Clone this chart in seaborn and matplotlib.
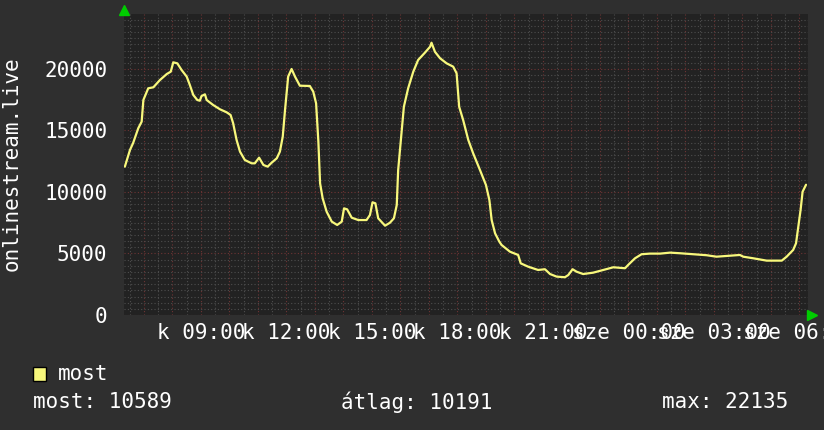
import numpy as np
import pandas as pd
import matplotlib.pyplot as plt
from matplotlib.patches import Rectangle
import seaborn as sns

# idő (órában, másnap > 24) és nézőszám
hours = [6.33, 6.51, 6.62, 6.80, 6.92, 6.98, 7.15, 7.33, 7.56, 7.80,
         7.94, 8.03, 8.17, 8.32, 8.50, 8.61, 8.73, 8.87, 8.96, 9.02,
         9.14, 9.20, 9.43, 9.67, 9.90, 10.04, 10.13, 10.25, 10.37, 10.54,
         10.78, 10.89, 11.04, 11.19, 11.34, 11.48, 11.66, 11.77, 11.87, 11.95,
         12.06, 12.18, 12.30, 12.47, 12.82, 12.94, 13.04, 13.12, 13.18, 13.27,
         13.41, 13.59, 13.78, 13.94, 14.02, 14.13, 14.29, 14.52, 14.81, 14.93,
         15.02, 15.12, 15.22, 15.46, 15.63, 15.77, 15.87, 15.92, 16.04, 16.12,
         16.27, 16.45, 16.62, 16.86, 17.04, 17.09, 17.21, 17.39, 17.62, 17.85,
         17.97, 18.06, 18.20, 18.38, 18.55, 18.79, 19.00, 19.12, 19.20, 19.32,
         19.47, 19.55, 19.84, 20.13, 20.22, 20.48, 20.83, 21.07, 21.25, 21.48,
         21.77, 21.89, 22.04, 22.18, 22.41, 22.76, 23.12, 23.47, 23.88, 23.99,
         24.23, 24.46, 24.75, 25.11, 25.46, 25.81, 26.27, 26.74, 27.09, 27.56,
         27.91, 28.03, 28.38, 28.85, 29.38, 29.55, 29.78, 29.88, 29.96, 30.04,
         30.11, 30.23]
viewers = [12060, 13420, 13980, 15180, 15720, 17480, 18430, 18510, 19100, 19590,
           19780, 20540, 20460, 19920, 19380, 18700, 17890, 17480, 17420, 17800,
           17940, 17480, 17070, 16720, 16480, 16260, 15590, 14230, 13280, 12600,
           12330, 12330, 12790, 12200, 12060, 12380, 12740, 13280, 14500, 16670,
           19380, 20000, 19380, 18640, 18620, 18160, 17210, 14090, 10710, 9490,
           8400, 7590, 7320, 7590, 8670, 8590, 7910, 7720, 7720, 8130,
           9160, 9080, 7860, 7260, 7500, 7860, 8940, 11790, 14900, 16930,
           18430, 19780, 20730, 21330, 21810, 22135, 21400, 20870, 20460, 20190,
           19650, 16930, 15850, 14230, 13150, 11790, 10570, 9350, 7720, 6640,
           5960, 5690, 5150, 4880, 4200, 3930, 3660, 3720, 3330, 3120,
           3070, 3250, 3720, 3520, 3330, 3440, 3660, 3880, 3800, 4070,
           4610, 4940, 4990, 4990, 5070, 5020, 4940, 4860, 4740, 4820,
           4880, 4740, 4610, 4420, 4420, 4740, 5290, 5830, 7180, 8540,
           10020, 10589]

xtick_hours = [9, 12, 15, 18, 21, 24, 27, 30]
xtick_labels = ['k 09:00', 'k 12:00', 'k 15:00', 'k 18:00', 'k 21:00',
                'sze 00:00', 'sze 03:00', 'sze 06:00']
ytick_values = [0, 5000, 10000, 15000, 20000]
y_title = 'onlinestream.live'
legend_label = 'most'
stats = ['most: 10589', 'átlag: 10191', 'max: 22135']

bg = '#2f2f2f'
plot_bg = '#222222'
line_col = '#f8f87c'
W, H = 824, 430

sns.set_style('dark')
plt.rcParams['font.family'] = ['DejaVu Sans Mono', 'DejaVu Sans']

fig = plt.figure(figsize=(W / 100, H / 100), dpi=100, facecolor=bg)
ax = fig.add_axes([124 / W, 1 - 315 / H, 684 / W, 301 / H])
ax.set_facecolor(plot_bg)

df = pd.DataFrame({'ora': hours, 'nezok': viewers})
sns.lineplot(data=df, x='ora', y='nezok', ax=ax, color=line_col,
             linewidth=1.6, estimator=None, zorder=3)

ax.set_xlim(6.3, 30.3)
ax.set_ylim(0, 24470)
ax.set_xlabel('')
ax.set_ylabel('')

# rács: vörös főrács, szürke segédrács
hour_ticks = np.arange(7, 31)
lab = dict(zip(xtick_hours, xtick_labels))
ax.set_xticks(hour_ticks)
ax.set_xticklabels([lab.get(int(h), '') for h in hour_ticks])
ax.set_xticks(np.arange(6.5, 30.3, 0.5), minor=True)
ax.set_yticks(ytick_values)
ax.set_yticks(np.arange(0, 24470, 500), minor=True)
ax.set_axisbelow(True)
ax.grid(which='minor', color='#4e4e4e', linestyle=(0, (1, 2)), linewidth=0.8)
ax.grid(which='major', axis='x', color='#6e3434', linestyle=(0, (1, 2)), linewidth=0.8)
ax.grid(which='major', axis='y', color='#6e3434', linestyle=(0, (1, 2)), linewidth=0.8)
# órák szürke vonalai a 3 órás címkék között
ax.tick_params(which='both', length=0)
ax.tick_params(axis='x', colors='white', labelsize=15, pad=6)
ax.tick_params(axis='y', colors='white', labelsize=15, pad=12)
for s in ax.spines.values():
    s.set_visible(False)

# zöld nyilak a tengelyek végén
ax.plot(0, 1.013, marker='^', color='#00cc00', ms=7, transform=ax.transAxes, clip_on=False)
ax.plot(1.006, 0, marker='>', color='#00cc00', ms=7, transform=ax.transAxes, clip_on=False)

fig.text(12 / W, 1 - 164 / H, y_title, rotation=90, ha='center', va='center',
         color='white', fontsize=15)

# jelmagyarázat
fig.patches.append(Rectangle((33 / W, 1 - 381 / H), 13 / W, 14 / H, transform=fig.transFigure,
                             facecolor=line_col, edgecolor='black', linewidth=1))
fig.text(58 / W, 1 - 374 / H, legend_label, ha='left', va='center', color='white', fontsize=15)

for xs, txt in zip([33, 341, 662], stats):
    fig.text(xs / W, 1 - 402 / H, txt, ha='left', va='center', color='white', fontsize=15)

fig.savefig('out.png', dpi=100, facecolor=bg)
